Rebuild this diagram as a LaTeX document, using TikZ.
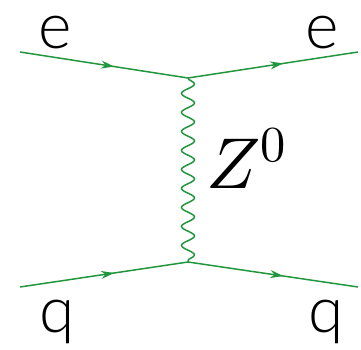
\documentclass[tikz,border=0pt]{standalone}
\usepackage{fontspec}
\newfontfamily\lblfont{Lato Light}
\usepackage{unicode-math}
\setmathfont{Latin Modern Math}
\usetikzlibrary{decorations.pathmorphing,decorations.markings,arrows.meta}
\definecolor{fermgreen}{RGB}{34,150,62}

\begin{document}
\begin{tikzpicture}[
    x=1pt, y=-1pt,
    fermion/.style={draw=fermgreen, line width=1.5pt, postaction={decorate},
      decoration={markings, mark=at position 0.56 with {\arrow{Stealth[length=13pt,width=8pt]}}}},
    boson/.style={draw=fermgreen, line width=1.5pt, decorate,
      decoration={snake, segment length=19pt, amplitude=6.5pt}},
    particle/.style={inner sep=0pt, text height=34pt, text depth=13pt,
      font=\lblfont\fontsize{64}{64}\selectfont},
]
\useasboundingbox (0,0) rectangle (361,350);

% vertices and external legs
\coordinate (vtop) at (188,78);
\coordinate (vbot) at (188,262);
\coordinate (ein) at (20,52);
\coordinate (eout) at (358,52);
\coordinate (qin) at (20,287);
\coordinate (qout) at (358,287);

% fermion lines
\draw[fermion] (ein) -- (vtop);
\draw[fermion] (vtop) -- (eout);
\draw[fermion] (qin) -- (vbot);
\draw[fermion] (vbot) -- (qout);

% exchanged boson
\draw[boson] (vtop) -- (vbot);

% labels
\node[particle, anchor=base] (ein_lbl) at (55,49) {e};
\node[particle, anchor=base] (eout_lbl) at (322,49) {e};
\node[particle, anchor=base] (qin_lbl) at (57,332) {q};
\node[particle, anchor=base] (qout_lbl) at (326,332) {q};
\node[inner sep=0pt, anchor=base west, font=\fontsize{72}{72}\selectfont] (zlbl) at (206,188) {$Z^0$};
\end{tikzpicture}
\end{document}
